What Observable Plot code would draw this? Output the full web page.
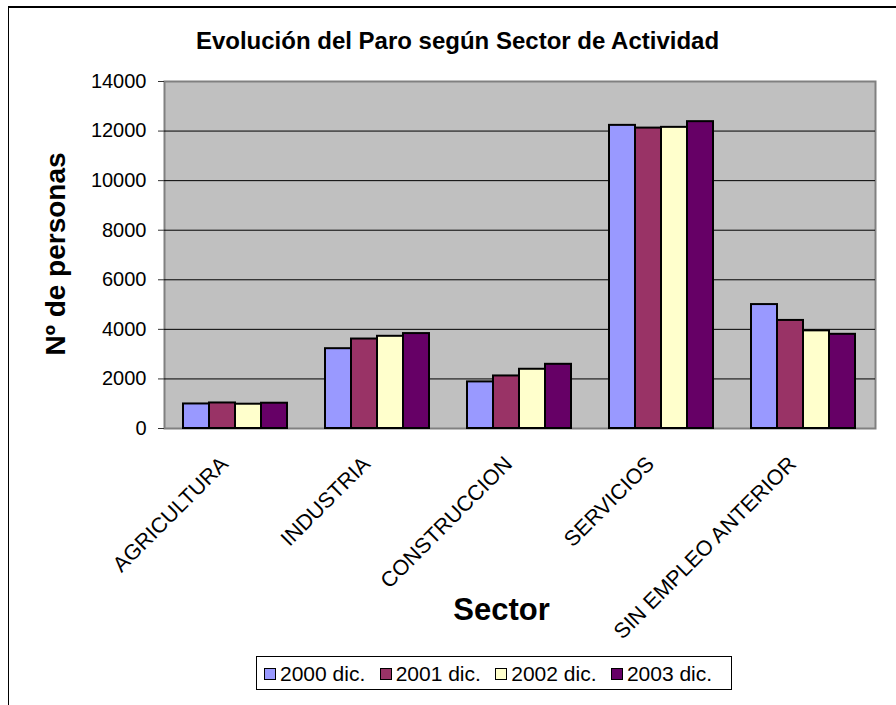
<!DOCTYPE html>
<html>
<head>
<meta charset="utf-8">
<script src="https://cdn.jsdelivr.net/npm/d3@7"></script>
<script src="https://cdn.jsdelivr.net/npm/@observablehq/plot@0.6"></script>
<style>
  body { margin: 0; background: #fff; font-family: Arial, "Liberation Sans", sans-serif; }
  #wrap { position: relative; width: 896px; height: 705px; overflow: hidden; background: #fff; }
  #chart { position: absolute; left: 0; top: 0; }
  #border { position: absolute; left: 8px; top: 6px; width: 2000px; height: 2000px;
            border-left: 1.5px solid #000; border-top: 2px solid #000; pointer-events: none; }
  #title { position: absolute; left: 0; width: 915px; top: 28.7px; text-align: center;
           font-weight: bold; font-size: 24px; line-height: 24px; white-space: nowrap; color: #000; }
  #xlabel { position: absolute; left: 401.5px; width: 200px; top: 593.8px; text-align: center;
            font-weight: bold; font-size: 31px; line-height: 31px; color: #000; }
  #legend { position: absolute; left: 256px; top: 656px; width: 474px; height: 32px;
            border: 1px solid #000; background: #fff; }
  #legend .items { position: absolute; left: 7px; top: 6px; display: flex; gap: 14.4px; }
  #legend .item { display: flex; align-items: flex-start; gap: 4px; font-size: 21px; line-height: 21px; color: #000; white-space: nowrap; }
  #legend .sw { width: 10px; height: 10px; border: 1.5px solid #000; margin-top: 4.5px; }
</style>
</head>
<body>
<div id="wrap">
  <div id="chart"></div>
  <div id="title"></div>
  <div id="xlabel"></div>
  <div id="legend"><div class="items"></div></div>
  <div id="border"></div>
</div>
<script>
// ---- Data ----
const sectors = ["AGRICULTURA", "INDUSTRIA", "CONSTRUCCION", "SERVICIOS", "SIN EMPLEO ANTERIOR"];
const years = ["2000 dic.", "2001 dic.", "2002 dic.", "2003 dic."];
const v2000 = [990, 3220, 1880, 12230, 5000];
const v2001 = [1030, 3610, 2120, 12120, 4360];
const v2002 = [980, 3720, 2390, 12150, 3940];
const v2003 = [1020, 3830, 2590, 12380, 3800];
const colors = ["#9999ff", "#993366", "#ffffcc", "#660066"];
const yTicks = [0, 2000, 4000, 6000, 8000, 10000, 12000, 14000];
const titleText = "Evolución del Paro según Sector de Actividad";
const yLabel = "Nº de personas";
const xLabel = "Sector";

// ---- Build ----
const series = [v2000, v2001, v2002, v2003];
const rows = years.flatMap((yr, i) => sectors.map((s, j) => ({sector: s, year: yr, value: series[i][j], k: i})));

const base = {
  width: 896, height: 705,
  marginTop: 81, marginBottom: 277, marginLeft: 164, marginRight: 21,
  x: {type: "band", domain: sectors, paddingInner: 0.267, paddingOuter: 0.134, align: 0.5},
  y: {domain: [0, 14000]},
  style: {background: "transparent", fontFamily: "Arial, 'Liberation Sans', sans-serif", color: "#000", overflow: "visible"}
};

const probe = Plot.plot({...base, marks: [Plot.frame()]});
const bw = probe.scale("x").bandwidth;
const q = bw / years.length;

const chart = Plot.plot({
  ...base,
  marks: [
    Plot.frame({fill: "#c0c0c0", stroke: "#808080", strokeWidth: 2}),
    Plot.ruleY(yTicks.filter(t => t > 0 && t < 14000), {stroke: "#000", strokeWidth: 1}),
    ...years.map((yr, i) => Plot.barY(rows.filter(r => r.k === i), {
      x: "sector", y: "value", fill: colors[i], stroke: "#000", strokeWidth: 2,
      insetLeft: i * q, insetRight: (years.length - 1 - i) * q
    })),
    Plot.axisY({ticks: yTicks, tickSize: 6, tickPadding: 12, fontSize: 20, label: null, tickFormat: d => String(d), stroke: "#333"}),
    Plot.axisX({tickRotate: -45, tickSize: 0, tickPadding: 32, dx: -11, fontSize: 21.5, label: null}),
    Plot.text([yLabel], {frameAnchor: "left", text: d => d, rotate: -90, dx: -108, dy: -1,
      fontSize: 28, fontWeight: "bold", textAnchor: "middle", lineAnchor: "middle"})
  ]
});
document.getElementById("chart").appendChild(chart);

document.getElementById("title").textContent = titleText;
document.getElementById("xlabel").textContent = xLabel;

const items = document.querySelector("#legend .items");
years.forEach((yr, i) => {
  const it = document.createElement("div");
  it.className = "item";
  const sw = document.createElement("div");
  sw.className = "sw";
  sw.style.background = colors[i];
  const tx = document.createElement("span");
  tx.textContent = yr;
  it.appendChild(sw);
  it.appendChild(tx);
  items.appendChild(it);
});
</script>
</body>
</html>
